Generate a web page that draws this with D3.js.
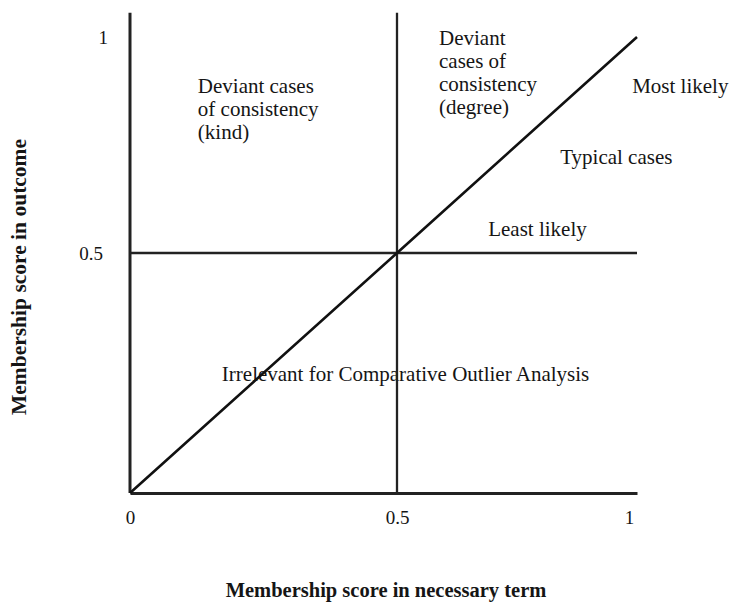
<!DOCTYPE html>
<html>
<head>
<meta charset="utf-8">
<script src="https://cdn.jsdelivr.net/npm/d3@7"></script>
<style>
  body { margin: 0; background: #fff; }
  text { font-family: "Liberation Serif", "Times New Roman", serif; fill: #151515; }
</style>
</head>
<body>
<div id="chart"></div>
<script>
// tick values and labels
var xTicks = [0, 0.5, 1];
var yTicks = [0.5, 1];
var xTitle = "Membership score in necessary term";
var yTitle = "Membership score in outcome";

// diagonal (outcome = necessary term)
var diagonal = [[0, 0], [0.5, 0.5], [1, 1]];

// reference lines in data units: [x1, y1, x2, y2]
var refLines = [
  [0, 0.5, 1, 0.5],    // horizontal at 0.5
  [0.5, 0, 0.5, 1.056] // vertical at 0.5
];

// region annotations
var regionText = [
  ["Deviant cases", "of consistency", "(kind)"],
  ["Deviant", "cases of", "consistency", "(degree)"],
  ["Most likely"],
  ["Typical cases"],
  ["Least likely"],
  ["Irrelevant for Comparative Outlier Analysis"]
];
var regionAnchor = [
  [0.127, 0.887],
  [0.5875, 0.998],
  [0.99, 0.887],
  [0.84, 0.722],
  [0.69, 0.556],
  [0.172, 0.248]
];

var width = 731, height = 603;
var svg = d3.select("#chart").append("svg")
  .attr("width", width).attr("height", height);

// the drawing is not evenly spaced, so the scales are piecewise
var x = d3.scaleLinear().domain([0, 0.5, 1]).range([130, 397, 637]);
var y = d3.scaleLinear().domain([0, 0.5, 1]).range([493, 253, 37]);

var lineColor = "#222";

// annotations first, the lines run over them
var notes = svg.selectAll(".note").data(regionText).enter().append("text")
  .attr("class", "note")
  .attr("x", (d, i) => x(regionAnchor[i][0]))
  .attr("y", (d, i) => y(regionAnchor[i][1]))
  .style("font-size", "21px");
notes.selectAll("tspan").data(d => d).enter().append("tspan")
  .attr("x", function () { return d3.select(this.parentNode).attr("x"); })
  .attr("dy", (d, i) => i === 0 ? "0.35em" : "23px")
  .text(d => d);

// left axis line
svg.append("line")
  .attr("x1", x(0)).attr("x2", x(0))
  .attr("y1", y(0)).attr("y2", y(1.056))
  .attr("stroke", lineColor).attr("stroke-width", 3);

// bottom axis with labels
var xAxis = svg.append("g")
  .attr("transform", "translate(0," + y(0) + ")")
  .call(d3.axisBottom(x).tickValues(xTicks).tickSize(0).tickPadding(18)
    .tickFormat(d3.format("")));
xAxis.select(".domain").attr("stroke", lineColor).attr("stroke-width", 3);
xAxis.selectAll("text").style("font-size", "19px")
  .style("font-family", "'Liberation Serif', serif").attr("fill", "#151515")
  .attr("dx", d => d === 1 ? -8 : 0);

var yAxis = svg.append("g")
  .attr("transform", "translate(" + x(0) + ",0)")
  .call(d3.axisLeft(y).tickValues(yTicks).tickSize(0).tickPadding(22)
    .tickFormat(d3.format("")));
yAxis.select(".domain").remove();
yAxis.selectAll("text").style("font-size", "19px")
  .style("font-family", "'Liberation Serif', serif").attr("fill", "#151515")
  .attr("dx", d => d === 0.5 ? -5 : 0);

// reference lines
svg.selectAll(".ref").data(refLines).enter().append("line")
  .attr("class", "ref")
  .attr("x1", d => x(d[0])).attr("y1", d => y(d[1]))
  .attr("x2", d => x(d[2])).attr("y2", d => y(d[3]))
  .attr("stroke", lineColor)
  .attr("stroke-width", 2.3);

svg.append("path")
  .datum(diagonal)
  .attr("d", d3.line().x(d => x(d[0])).y(d => y(d[1])))
  .attr("fill", "none")
  .attr("stroke", "#111")
  .attr("stroke-width", 2.6);

// axis titles
svg.append("text")
  .attr("x", 386).attr("y", 597)
  .attr("text-anchor", "middle")
  .style("font-size", "20.5px").style("font-weight", "bold")
  .text(xTitle);

svg.append("text")
  .attr("transform", "translate(26,277) rotate(-90)")
  .attr("text-anchor", "middle")
  .style("font-size", "21.5px").style("font-weight", "bold")
  .text(yTitle);
</script>
</body>
</html>
